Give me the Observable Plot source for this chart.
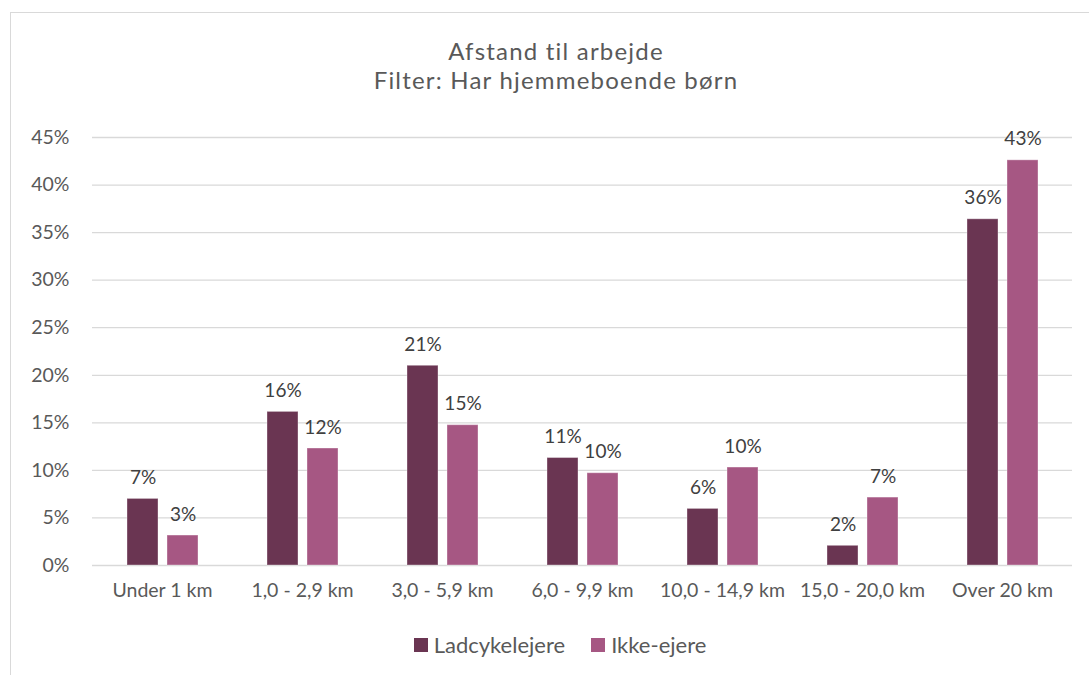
<!DOCTYPE html>
<html>
<head>
<meta charset="utf-8">
<script src="https://cdn.jsdelivr.net/npm/d3@7"></script>
<script src="https://cdn.jsdelivr.net/npm/@observablehq/plot@0.6"></script>
<style>
  html, body { margin: 0; padding: 0; background: #ffffff; }
  #page { position: relative; width: 1089px; height: 675px; overflow: hidden; font-family: Lato, "Open Sans", sans-serif; }
  #frame { position: absolute; left: 10px; top: 12px; width: 1200px; height: 800px;
           border-left: 1.5px solid #d9d9d9; border-top: 1.5px solid #d9d9d9; }
  #title { position: absolute; left: 0; top: 36px; width: 1112px; text-align: center;
           color: #595959; font-size: 24px; line-height: 29px; letter-spacing: 1.2px; }
  #chart { position: absolute; left: 0; top: 100px; }
  #legend { position: absolute; left: 0; top: 633px; width: 1120px; display: flex; justify-content: center;
            align-items: center; color: #595959; font-size: 22px; line-height: 24px; }
  .item { display: flex; align-items: center; margin: 0 13px; }
  .swatch { width: 14px; height: 14px; margin-right: 6px; }
</style>
</head>
<body>
<div id="page">
  <div id="frame"></div>
  <div id="title"><div>Afstand til arbejde</div><div>Filter: Har hjemmeboende børn</div></div>
  <div id="chart"></div>
  <div id="legend"></div>
</div>
<script>
// Distance to work, households with children living at home
const categories = ["Under 1 km", "1,0 - 2,9 km", "3,0 - 5,9 km", "6,0 - 9,9 km", "10,0 - 14,9 km", "15,0 - 20,0 km", "Over 20 km"];
const series = ["Ladcykelejere", "Ikke-ejere"];
const ladcykelejere = [0.070, 0.1615, 0.210, 0.113, 0.0595, 0.0207, 0.364];
const ikkeEjere = [0.0315, 0.123, 0.1475, 0.097, 0.103, 0.0714, 0.426];
const yTicks = [0, 0.05, 0.10, 0.15, 0.20, 0.25, 0.30, 0.35, 0.40, 0.45];
const colors = ["#6a3552", "#a65783"];

const rows = [];
categories.forEach((c, i) => {
  rows.push({category: c, series: series[0], value: ladcykelejere[i]});
  rows.push({category: c, series: series[1], value: ikkeEjere[i]});
});

const pct = d3.format(".0%");

const chart = Plot.plot({
  width: 1089,
  height: 520,
  marginTop: 37,
  marginBottom: 55,
  marginLeft: 92,
  marginRight: 17,
  style: {fontFamily: "Lato, 'Open Sans', sans-serif", fontSize: "19.5px", color: "#595959", background: "transparent", overflow: "visible"},
  fx: {domain: categories, padding: 0, label: null, axis: "bottom", tickSize: 0, tickPadding: 18},
  x: {domain: series, paddingInner: 0.225, paddingOuter: 0.8625, axis: null},
  y: {domain: [0, 0.45], ticks: yTicks, tickFormat: pct, label: null, tickSize: 0, tickPadding: 23},
  color: {domain: series, range: colors},
  marks: [
    Plot.ruleY(yTicks, {stroke: "#d9d9d9", strokeWidth: 1.3}),
    Plot.barY(rows, {fx: "category", x: "series", y: "value", fill: "series",
                     stroke: "#ffffff", strokeOpacity: 0.35, strokeWidth: 1}),
    Plot.text(rows, {fx: "category", x: "series", y: "value", text: d => pct(d.value),
                     dy: -21, fill: "#404040", fontSize: 19})
  ]
});
document.getElementById("chart").appendChild(chart);

// Legend below the chart
const legend = document.getElementById("legend");
series.forEach((s, i) => {
  const item = document.createElement("div");
  item.className = "item";
  const sw = document.createElement("span");
  sw.className = "swatch";
  sw.style.background = colors[i];
  const label = document.createElement("span");
  label.textContent = s;
  item.appendChild(sw);
  item.appendChild(label);
  legend.appendChild(item);
});
</script>
</body>
</html>
